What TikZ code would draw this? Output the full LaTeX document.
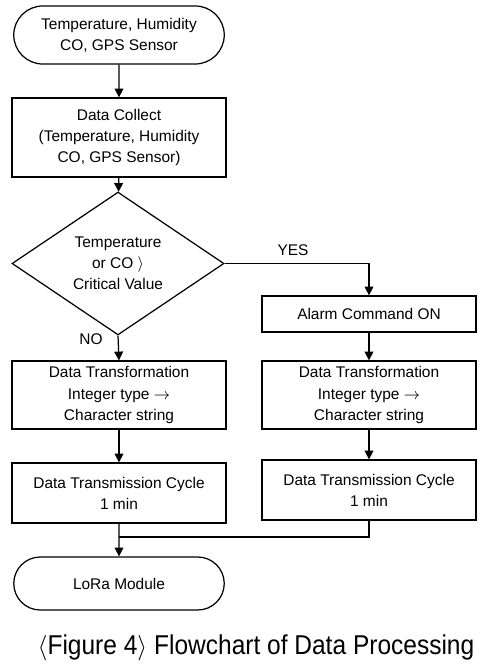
\documentclass[tikz,border=0pt]{standalone}
\usepackage{fontspec}
\setmainfont{Liberation Sans}
\newfontfamily\capfont[FakeStretch=0.9]{Liberation Sans}
\usetikzlibrary{shapes.geometric,shapes.misc,arrows.meta}

\begin{document}
\begin{tikzpicture}[
  box/.style={draw, line width=0.7pt, minimum width=4.28cm, align=center, inner sep=1pt, font=\fontsize{8.8}{12}\selectfont},
  term/.style={box, rounded rectangle},
  decision/.style={box, diamond, minimum width=4.24cm, minimum height=2.54cm, inner sep=0pt},
  arr/.style={line width=0.7pt, -{Triangle[length=5pt,width=5pt]}},
  lbl/.style={font=\fontsize{8.8}{12}\selectfont}
]
\useasboundingbox (0,0) rectangle (9.92,-13.42);

% left column
\node[term, minimum height=1.16cm] (sensor) at (2.38,-0.70) {Temperature, Humidity\\CO, GPS Sensor};
\node[box, minimum height=1.58cm] (collect) at (2.38,-2.75) {Data Collect\\(Temperature, Humidity\\CO, GPS Sensor)};
\node[decision] (check) at (2.36,-5.27) {Temperature\\or CO $\rangle$\\Critical Value};
\node[box, minimum height=1.36cm] (transL) at (2.38,-7.90) {Data Transformation\\Integer type $\rightarrow$\\Character string};
\node[box, minimum height=1.20cm] (cycleL) at (2.38,-9.86) {Data Transmission Cycle\\1 min};
\node[term, minimum height=1.06cm] (lora) at (2.38,-11.67) {LoRa Module};

% right column
\node[box, minimum height=0.72cm] (alarm) at (7.38,-6.28) {Alarm Command ON};
\node[box, minimum height=1.36cm] (transR) at (7.38,-7.90) {Data Transformation\\Integer type $\rightarrow$\\Character string};
\node[box, minimum height=1.20cm] (cycleR) at (7.38,-9.80) {Data Transmission Cycle\\1 min};

\node[lbl] (yes) at (5.86,-5.00) {YES};
\node[lbl] (no) at (1.82,-6.78) {NO};
\coordinate (join) at (2.38,-10.74);

\draw[arr] (sensor) -- (collect);
\draw[arr] (collect) -- (check);
\draw[arr] (check.east) -| (alarm.north);
\draw[arr] (check.south) -- (transL.north);
\draw[arr] (alarm) -- (transR);
\draw[arr] (transL) -- (cycleL);
\draw[arr] (transR) -- (cycleR);
\draw[line width=0.7pt] (cycleR.south) |- (join);
\draw[arr] (cycleL) -- (lora);

\node[font=\fontsize{15.5}{18}\selectfont\capfont] (caption) at (5.12,-12.96) {$\langle$Figure 4$\rangle$ Flowchart of Data Processing};
\end{tikzpicture}
\end{document}
